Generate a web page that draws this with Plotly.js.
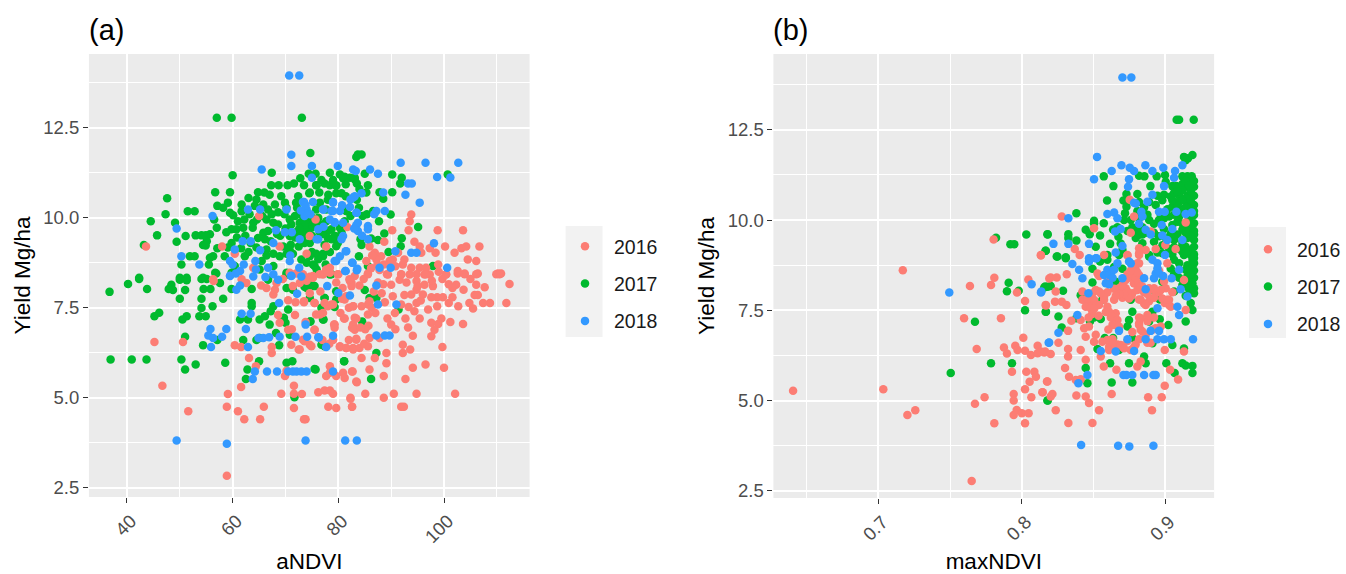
<!DOCTYPE html>
<html><head><meta charset="utf-8">
<script src="https://cdn.plot.ly/plotly-3.0.1.min.js"></script>
<style>html,body{margin:0;padding:0;background:#fff}</style></head><body>
<div id="chart" style="width:1346px;height:574px"></div>
<script>
const years = ['2016','2017','2018'];
const colors = ['#FC7D74','#00BA2E','#3399FF'];
const aNDVI_2016 = [[45.2,6.55],[50.6,6.55],[46.7,5.33],[51.6,4.62],[56.4,8.24],[59.1,5.1],[58.9,4.75],[61,4.62],[62.2,4.4],[65.2,4.4],[65.9,4.75],[58.9,2.83],[61.6,5.3],[63.1,6.1],[64.4,5.87],[60.4,6.46],[61.6,6.41],[67.4,6.41],[67.4,6.24],[69.2,5.11],[71.6,5.33],[71.6,5.11],[73.1,5.1],[71.6,4.71],[73.8,4.4],[73.5,4.4],[78.1,4.75],[79.6,4.71],[76.2,5.15],[77.4,5.2],[78.4,5.2],[79,5.11],[82.3,4.97],[82.6,4.75],[69.9,5.6],[70.2,5.75],[77.7,5.6],[78.4,5.87],[78.4,5.69],[79.6,5.6],[80.9,5.69],[81.2,5.55],[82.7,5.73],[83.4,5.45],[68.9,7.08],[70.5,6.89],[71.1,6.47],[72.5,6.34],[73.3,6.61],[74.6,6.47],[75.5,6.89],[75.8,7.31],[79.2,7.03],[81.1,7.2],[82.6,6.94],[83.1,7.22],[79,6.61],[80.3,6.43],[81.5,6.38],[82.8,6.38],[83.4,6.61],[67.7,7.87],[68,8],[70.5,7.71],[71.9,7.65],[73.5,7.65],[75.5,7.63],[77.4,7.63],[79,7.59],[77.1,7.35],[81.5,7.82],[82.5,8.19],[82.8,7.54],[65.4,8.12],[62.6,8.19],[68.3,8.19],[71.4,8.1],[72.7,8.19],[75.2,8.33],[77.1,8.42],[78.4,8.47],[112.4,8.16],[111.8,7.63],[110.2,8.45],[110.8,8.45],[108.7,7.63],[107.4,7.63],[106.1,8.14],[107.7,8.07],[105.5,7.48],[104.8,7.63],[105.8,7.85],[106.4,7.85],[106.4,8.45],[103.9,8.45],[102.6,8.45],[102.3,8.14],[101.6,8.05],[100.4,8.42],[99.7,8.3],[102.7,7.54],[101.6,7.79],[100.9,7.63],[99.8,7.79],[98.7,7.79],[97.6,7.79],[98.7,7.54],[99.5,7.2],[103.6,7.05],[101.2,7.1],[98.9,7.05],[97.6,7.08],[98.2,6.89],[97.6,6.71],[94.1,6.72],[99.7,6.41],[100,5.83],[96.5,5.92],[94.1,5.83],[102.1,5.11],[94.8,5.11],[90.5,5.11],[88.6,5],[85.1,5.11],[82.3,5],[82.6,4.75],[91.9,4.75],[92.4,4.75],[92.7,5.52],[88.6,5.6],[85.9,5.78],[83.5,5.43],[82.6,5.73],[89.1,5.96],[89.1,6.24],[86.9,6.1],[84.4,6.1],[92.2,6.47],[93.6,6.34],[92.2,6.24],[95.4,7.2],[94.4,7.4],[92.7,7.2],[93.3,7.52],[94.8,7.63],[91.9,7.59],[90,7.03],[89.3,7.2],[90.3,7.82],[93.8,7.87],[94.8,8],[96.3,8.14],[94.8,8.24],[96.3,8.42],[91.6,8.28],[90,8.14],[89.4,8.42],[91.9,8.42],[93.5,8.42],[96,7.87],[97.3,8.42],[85.6,7.59],[85.6,7.31],[85.7,7],[82.8,7.03],[83.1,6.89],[83.4,7.2],[81.2,7.2],[79.3,7.03],[79.3,6.94],[84.4,7.54],[82.8,7.54],[85.9,7.68],[81.2,7.73],[82.2,8.24],[82.5,8.1],[84,8.12],[85.6,8.45],[73.5,7.68],[75.5,7.63],[76.5,7.31],[78,7.54],[78.7,7.59],[75.5,6.89],[79,6.61],[80.3,6.41],[81.5,6.38],[82.8,6.34],[84,6.38],[85.6,6.43],[83.4,6.64],[85.9,6.66],[87.8,6.66],[74.9,6.43],[73.6,6.57],[72.7,6.34],[93.8,10.09],[93.5,9.9],[90.2,9.65],[93.3,9.65],[98.8,9.65],[103.6,9.65],[94.4,9.33],[88.7,9.33],[95.4,9.2],[100.2,9.2],[97.3,9.15],[98.4,9.03],[95.7,9.03],[102,9.03],[103.3,9.15],[104.2,9.2],[106.7,9.2],[104.5,8.84],[106.1,8.8],[81.7,9.74],[77.7,9.2],[85.9,9.2],[86.9,9.03],[88.1,8.93],[90.3,8.84],[92.5,8.84],[85.3,8.8],[87.2,8.84],[89.7,8.8],[91.3,9.03],[93.8,8.61],[95.4,8.61],[96.6,8.61],[98.9,8.7],[106.1,8.43],[100.4,8.43],[102.6,8.52],[103.9,8.43],[109.9,8.43],[110.5,8.43],[96.6,8.43],[91.9,8.43],[89.2,8.43],[85.6,8.43],[80,8.43],[78.4,8.61],[76.5,8.43],[74.6,8.36],[83.1,8.38],[94.8,8.43],[43.6,9.2],[58,9.2],[60.4,9],[68.9,9.2],[74,9],[74.6,9.49],[75.7,9.95],[65,10.05],[63.9,8.61],[70.8,8.47],[73.3,8.43],[75.2,8.38],[77.7,8.56],[79.9,8.43],[82.1,8.29],[56.3,8.29],[61.7,8.29],[86.2,8.6],[87.8,8.55],[92.9,8.2],[97.9,8.1],[88.2,7.9],[86.7,7.95],[86.4,8.95],[87.4,8.7],[88.6,8.7],[90.8,8.65],[92.2,8.7],[86.3,7.5],[87,7.35],[85.1,6.9],[84.2,6.95],[80.4,7.35],[82,7.5],[76.6,7.95],[74.6,7.9],[71.8,7.3],[68.6,7.3],[66.4,8.05],[69.5,8.3],[72,8.45],[74,8.25],[79.6,8.2],[80.8,8.05],[84.8,8.3],[87.5,8.2],[88.5,8.15],[92.5,7.85],[95,8.1],[97.7,8.25],[99,8.5],[100.9,8.15],[103.7,8],[105,8.3],[97,7.45],[95.6,7.7],[90.7,7.35],[88.8,7.65],[77,6.6],[78.3,6.5],[82,6.6],[84.9,6.5],[80.7,7.75],[71.2,6.9],[73.8,7.1],[90.8,6.9],[93.2,6.95]];
const aNDVI_2017 = [[36.7,7.94],[40.2,8.16],[42.3,8.3],[43.8,8.02],[45.2,7.26],[46.1,7.36],[48.4,8.14],[47.9,8.02],[48.7,7.99],[50,8.28],[51.3,8.26],[51,7.99],[50,7.75],[54.1,8.3],[55.1,8.3],[54.5,8.02],[55.8,8.02],[54.1,7.75],[54.1,7.49],[53.7,7.26],[54.9,7.26],[56.2,7.54],[58.2,7.75],[51.3,7.26],[50.5,7.17],[51,6.69],[36.9,6.06],[40.9,6.06],[43.7,6.06],[50.3,6.06],[51,5.78],[53,5.92],[58.6,5.97],[65,6.01],[62.8,5.78],[62.5,5.52],[54.4,6.46],[57.1,6.6],[62,6.6],[64.5,6.6],[68.8,6.46],[70.2,5.97],[71.3,6.01],[71.7,5.01],[75.7,5.78],[81.1,6.01],[77.2,7.17],[74.7,7.12],[67,7.03],[65.1,7.17],[66.1,7.26],[67.2,7.4],[67.7,7.54],[63.6,7.63],[63.6,7.54],[61.4,7.17],[62.9,7.17],[69.7,7.22],[70,7.08],[70.5,7.45],[68.2,6.8],[70.8,6.75],[77.4,6.43],[76.8,6.47],[65.1,6.66],[56.9,8.45],[57.6,8.19],[59.8,8.02],[63.6,8.02],[66.7,8.28],[70.2,8.05],[71.4,8],[74,8.05],[75.5,8.1],[77.4,7.77],[79.6,7.96],[79.6,7.73],[70.2,8.42],[78.4,8.42],[87.2,6.24],[81.1,6.01],[86.2,5.52],[75.5,5.8],[84.5,7.12],[77.1,7.17],[74.7,7.12],[77.1,6.47],[91.4,7.45],[74.6,8.12],[73.6,8.08],[75.2,8.12],[85,7.99],[85.9,7.77],[87.2,7.77],[79.3,7.52],[77.4,7.77],[74.6,7.77],[76.8,7.5],[57,12.78],[59.8,12.78],[73.1,12.78],[74.7,11.8],[60,11.18],[67.4,11.25],[74.4,11.22],[75.7,11.22],[78.4,11.25],[80.3,11.2],[83.4,11.69],[83.7,11.76],[84.4,11.76],[56.7,10.71],[59.5,10.71],[47.6,10.54],[47.3,10.1],[44.5,9.9],[45.7,9.51],[49.1,9.86],[49.4,9.33],[51.5,10.18],[52.8,10.18],[51.1,9.49],[43.2,9.24],[67.3,10.9],[68.7,10.9],[70.4,10.9],[71.6,10.95],[73.5,10.9],[75.8,10.9],[77.4,10.95],[79.6,10.9],[81.4,10.93],[83.1,11.07],[64.8,10.71],[67,10.64],[72.4,10.6],[74.5,10.68],[78.1,10.64],[80.6,10.68],[57.1,10.33],[59.1,10.42],[61.7,10.37],[58.2,10.28],[59.5,10.14],[60.1,10.07],[61.7,10.18],[64.5,10.51],[64.2,10.33],[65.8,10.37],[68,10.37],[66.7,10.23],[69.9,10.42],[70.2,10.28],[72,10.42],[72.2,10.28],[66.4,9.95],[63.9,9.86],[67.7,9.86],[68.6,9.81],[63.8,9.72],[60.7,9.68],[62,9.72],[59.8,9.68],[58.8,9.6],[57,9.72],[56.5,9.95],[55.7,9.54],[53,9.51],[54.1,9.51],[54.9,9.51],[55.1,9.35],[54.4,9.24],[54.9,9.23],[59.8,9.3],[59.1,9.17],[57.1,9.15],[56.3,8.93],[55.7,8.89],[58.5,8.93],[51.9,8.93],[52.8,8.93],[50.3,8.7],[55.5,8.7],[56.7,8.47],[65.8,9.58],[66.7,9.63],[64.8,9.44],[66.1,9.4],[64.5,9.17],[66.4,9.12],[66.4,8.95],[67.7,9],[68.9,8.93],[70.2,9],[71.4,9],[73.6,9.3],[71.1,9.81],[72.7,9.86],[73.9,9.86],[74.9,9.72],[73.6,9.63],[74.6,9.9],[70.8,9.49],[74.6,9.3],[75.8,9],[77.1,9],[73,8.84],[75.5,8.66],[77.7,9.9],[78.7,9.68],[79.3,9.49],[79.9,9.3],[78.7,9.4],[80.9,10.23],[77.7,10.23],[75.8,10.23],[81.5,10.19],[62.3,8.93],[60.4,8.66],[59.8,8.47],[65.1,8.56],[67.7,8.66],[70.2,8.47],[54.4,8.33],[51.3,8.33],[50,8.33],[42.3,8.33],[90.2,11.2],[92,11.11],[91.7,10.95],[100.7,11.2],[81.2,11.14],[82.2,11.11],[83.1,11.11],[85,11.22],[83.5,10.95],[85.6,10.9],[75.9,10.9],[78.4,10.9],[79.6,10.88],[74.6,10.7],[79.6,10.68],[87.8,10.71],[88.5,10.53],[90.2,10.71],[76.5,10.42],[81.5,10.19],[83.9,10.28],[86.6,10.19],[89.9,10.09],[87.7,9.9],[95.1,9.74],[88.7,9.56],[92,9.43],[91.8,9.21],[89.5,9.05],[87.5,9.38],[86.2,9.42],[84.2,9.4],[84.4,9.24],[83.9,8.93],[85.6,8.66],[97.9,8.66],[78.7,8.43],[80.3,9.72],[79.3,9.49],[79.6,9.21],[78,9.63],[78,9.44],[76.8,9.81],[75.2,9.95],[73.6,9.77],[73.3,9.49],[74.6,8.93],[77.1,8.93],[75.2,8.7],[75.9,8.56],[72,9.6],[70,9.7],[69,9.5],[75,9.5],[76.5,9.6],[72.5,9.2],[71,9.25],[72.8,10.1],[73.8,10.15],[74.8,10.05],[71.8,10.05],[70.8,9.95],[69.8,10.1],[68.6,10.15],[67.4,10.1],[65.6,10.05],[64.6,9.95],[63.2,10.1],[62.2,9.95],[61,9.9],[60.8,9.45],[62.4,9.5],[63.4,9.3],[61.6,9.15],[63,9.05],[65.5,8.8],[67.2,9.35],[68.4,9.55],[69.6,9.2],[71.8,9.45],[72.6,9.7],[73.4,9.95],[75.9,9.8],[76.2,10],[77,9.55],[77.4,9.25],[78.4,9.05],[74.2,9.6],[73.1,9.5],[70.8,9.1],[75,9.05],[74,8.75],[76.2,8.85],[77.6,8.7],[80.6,9.6],[81.2,9.9],[82.3,10.05],[84.6,10.05],[85.4,10.1],[83.5,10.5],[85.3,10.7],[81.4,10.6],[76.8,11.05],[79,11.05],[80.9,11.1],[84,10.8],[78,10.5],[76.4,10.7],[72.8,11.1],[69.2,10.6],[66,10.7],[63,10.55]];
const aNDVI_2018 = [[70.7,13.95],[72.6,13.95],[71.1,11.75],[71.1,11.44],[65.5,11.34],[75,11.44],[79.9,11.44],[82.8,11.34],[83.3,11.3],[75,11.11],[56.2,10.05],[49.4,9.7],[62.9,10.23],[65.2,10.23],[50.3,8.93],[53.7,8.7],[73.5,10.44],[75.2,10.44],[74,10.23],[73.6,10.05],[70.2,10.23],[77.2,10.23],[79,10.44],[78.7,10.19],[80.3,10.19],[82.8,10.56],[83.4,10.14],[79.3,9.86],[76.2,9.68],[80.9,9.49],[83.4,9.79],[69.9,9.6],[71.2,9.6],[72.7,9.4],[76.2,9.4],[67.7,9.3],[63.4,9.35],[61.9,9.35],[60.4,9.12],[59.5,8.8],[60,8.7],[61.4,8.52],[59.5,8.38],[64.3,8.8],[64.4,8.56],[66.7,8.61],[67.7,8.43],[70.8,8.8],[72.6,8.61],[71.1,8.38],[81.5,9.07],[79.6,8.8],[82.7,8.75],[81.3,8.52],[83.6,8.58],[91.8,11.53],[96.5,11.53],[102.7,11.53],[98.7,11.13],[101.2,11.12],[86,11.34],[87.5,11.22],[93.2,10.95],[93.9,10.95],[92.7,10.64],[95.4,10.42],[88.5,10.7],[84.4,10.68],[83.1,10.6],[82.3,10.51],[79,10.42],[73.3,10.44],[77.1,10.23],[79,10.19],[83.5,10.14],[87.2,10.19],[88.8,10.19],[79.3,9.88],[80.9,9.86],[83.7,9.86],[85.6,9.77],[85.6,9.68],[83.7,9.63],[75.9,9.4],[80.6,9.4],[85.6,9.4],[98.1,9.29],[90.8,9.07],[93.8,9.03],[94.8,9.03],[81.4,9.07],[80.3,8.93],[79.3,8.8],[82.6,8.75],[87.8,8.61],[89.9,8.61],[100.6,8.61],[81.4,8.52],[83.5,8.54],[49.4,3.81],[58.9,3.72],[73.8,3.81],[81.3,3.81],[83.5,3.81],[55.8,6.91],[55.4,6.73],[55.9,6.41],[58,6.69],[58.8,6.91],[56.3,6.66],[61.7,7.33],[63.4,7.33],[62.5,6.91],[62.9,6.41],[64.9,6.66],[65.8,6.66],[66.9,6.68],[68.9,6.69],[71.9,6.69],[74.1,6.69],[76.3,6.67],[79,6.72],[73.8,7.03],[68.8,7.63],[72.2,7.89],[77.9,8.1],[64.2,5.73],[66.5,5.73],[68.4,5.73],[70.5,5.73],[71.4,5.73],[72.1,5.73],[73,5.73],[74,5.73],[79,5.73],[63.8,5.52],[59.5,8.39],[61.4,8.12],[60.7,8],[63.9,8.37],[68.6,8.28],[73,8.37],[71.1,8.39],[87.2,8.12],[87.5,7.59],[91,7.59],[87.2,6.73],[88.8,6.73],[89.7,6.73],[76.2,6.68],[77.7,6.41],[80,7.91],[82.2,7.84],[73.8,10.35],[72.9,10.2],[74.7,10.1],[84.5,9.5],[83,9.7],[82.2,10.3],[80.7,10.35],[86.8,10.1],[70.9,8.95],[68.2,9.65],[77.2,9.75],[78.4,9.95],[65.2,9.1],[62.1,8.7],[66.2,8.35],[60.6,8.45]];

const maxNDVI_2016 = [[0.6405,5.27],[0.7034,5.31],[0.717,8.61],[0.7202,4.6],[0.7257,4.73],[0.765,2.77],[0.7673,4.91],[0.774,5.09],[0.7808,4.37],[0.7638,8.17],[0.7597,7.28],[0.7685,6.43],[0.7854,7.28],[0.7785,8.2],[0.7808,8.4],[0.7803,9.46],[0.7875,6.47],[0.7896,6.3],[0.7954,6.52],[0.797,6.4],[0.7931,5.8],[0.7943,5.18],[0.7943,5],[0.7943,4.6],[0.7964,4.74],[0.8,4.65],[0.8047,4.65],[0.8022,5.31],[0.8022,4.37],[0.8066,5.09],[0.8145,5.23],[0.8054,5.52],[0.8031,5.8],[0.8087,5.8],[0.8098,5.66],[0.8175,5.53],[0.801,6.74],[0.8022,7.76],[0.7966,7.99],[0.8045,8.35],[0.8133,9.02],[0.8022,6.38],[0.8063,6.26],[0.811,6.52],[0.811,6.31],[0.8156,6.33],[0.8168,7.63],[0.8191,8.38],[0.8201,8.41],[0.8243,8.41],[0.8313,8.5],[0.8236,8.02],[0.8166,7.65],[0.8231,7.74],[0.8278,7.74],[0.831,7.65],[0.8345,7.21],[0.8322,6.93],[0.8255,6.6],[0.8132,6.36],[0.8162,6.36],[0.8201,6.29],[0.8322,6.43],[0.8322,6.22],[0.841,6.4],[0.8445,6.13],[0.8301,5.9],[0.8329,5.66],[0.8376,5.57],[0.841,5.59],[0.8178,5.53],[0.8143,5.23],[0.8213,5.18],[0.8201,5.11],[0.838,5.14],[0.8445,5.11],[0.8468,4.93],[0.8236,4.73],[0.8538,4.73],[0.8324,4.38],[0.8492,4.38],[0.8626,5.18],[0.888,5.09],[0.8975,5.09],[0.8907,4.73],[0.8996,5.41],[0.9089,5.58],[0.9033,5.85],[0.8571,5.94],[0.8659,5.85],[0.8805,5.94],[0.8828,6.08],[0.8782,6.48],[0.8996,6.4],[0.913,6.36],[0.855,6.22],[0.8515,6.82],[0.8603,6.97],[0.8445,6.77],[0.8503,6.63],[0.8561,6.63],[0.8608,6.49],[0.8701,6.49],[0.841,7.23],[0.8434,7],[0.8468,7.05],[0.8457,7.69],[0.8422,8.02],[0.8527,8.52],[0.8643,7.79],[0.8654,7.42],[0.8654,7.14],[0.8817,7.14],[0.8828,6.96],[0.8968,7.05],[0.9142,7.51],[0.8677,8.11],[0.8724,8.11],[0.8782,8.25],[0.8817,8.48],[0.8817,8.8],[0.8817,9.03],[0.8736,9.03],[0.877,7.97],[0.8852,7.69],[0.8887,8.11],[0.8921,8.06],[0.9003,8.11],[0.9026,7.79],[0.9026,7.65],[0.913,8.34],[0.9014,8.8],[0.8278,10.1],[0.8752,10.56],[0.8782,10.1],[0.9142,9.93],[0.8503,9.77],[0.8759,9.65],[0.8898,9.68],[0.8369,9.2],[0.8403,9.03],[0.8132,9.03],[0.8573,9.03],[0.8736,9.02],[0.8817,9.08],[0.8863,9.17],[0.8933,9.2],[0.9,9.31],[0.9072,9.2],[0.8817,9.22],[0.8468,7.69],[0.8503,7.79],[0.8538,8.02],[0.8573,7.88],[0.852,7.65],[0.8596,7.6],[0.8585,7.45],[0.862,7.3],[0.8632,7.1],[0.8701,8.2],[0.8745,8.4],[0.8782,8.7],[0.8764,7.9],[0.8817,7.8],[0.8851,8.0],[0.8736,8.5],[0.8701,7.85],[0.8887,7.75],[0.8921,7.85],[0.8956,8.0],[0.8996,7.7],[0.8991,8.3],[0.8956,8.6],[0.9049,8.0],[0.8596,8.3],[0.8538,8.45],[0.8643,8.1],[0.8596,8.0],[0.8817,7.3],[0.8875,7.2],[0.8921,7.3],[0.8933,7.0],[0.877,6.9],[0.8817,6.7],[0.8898,6.6],[0.8632,6.7],[0.8666,6.55],[0.8759,6.4],[0.8422,7.79],[0.8457,7.83],[0.8445,7.6],[0.848,7.56],[0.8492,7.97],[0.8515,8.06],[0.855,7.97],[0.8573,7.79],[0.8538,7.65],[0.8608,7.46],[0.8631,7.33],[0.8666,7.23],[0.8643,7.09],[0.8677,7.05],[0.8701,8.16],[0.8736,8.02],[0.8724,8.34],[0.877,8.48],[0.8794,8.62],[0.8805,8.8],[0.8782,8.25],[0.8805,8.06],[0.8747,7.83],[0.8828,7.79],[0.8863,7.65],[0.8817,7.09],[0.884,6.91],[0.8828,7.28],[0.8875,7.37],[0.891,6.96],[0.8863,6.82],[0.8979,7.83],[0.9014,7.79],[0.9038,7.6],[0.8921,8.11],[0.8968,8.06],[0.8817,8.25],[0.884,8.16],[0.8596,6.68],[0.8631,6.54],[0.8689,6.54],[0.8712,6.45],[0.8608,6.4],[0.8793,8.4],[0.8805,8.55],[0.8759,8.6],[0.8828,8.15],[0.8875,7.95],[0.8712,7.95],[0.8678,7.95],[0.8655,7.9],[0.849,7.4],[0.8535,7.35],[0.8505,7.55],[0.8465,7.3],[0.8875,6.6],[0.8736,6.65],[0.8793,6.55]];
const maxNDVI_2017 = [[0.782,9.51],[0.792,9.33],[0.7947,9.33],[0.8031,9.6],[0.818,9.6],[0.8166,9.15],[0.7908,8.26],[0.7896,8.03],[0.7978,8.04],[0.8156,8.13],[0.818,8.15],[0.8022,7.5],[0.8168,7.46],[0.7673,7.18],[0.7785,6.03],[0.7931,6.03],[0.7504,5.76],[0.818,5],[0.8162,8.16],[0.8201,8.17],[0.8287,8.04],[0.8166,7.46],[0.8255,7.33],[0.8278,7.02],[0.838,7.28],[0.8475,7.19],[0.8503,7.3],[0.855,7.26],[0.8178,5],[0.8445,5.9],[0.8457,5.48],[0.8626,5.5],[0.8615,6.03],[0.8747,6.03],[0.877,5.5],[0.8852,6.22],[0.8863,6.03],[0.9007,6.03],[0.9065,5.76],[0.9119,6.03],[0.9142,5.97],[0.9189,5.96],[0.9189,5.76],[0.913,6.44],[0.8527,6.43],[0.8578,6.73],[0.8636,6.73],[0.8677,6.4],[0.877,6.73],[0.891,6.59],[0.9049,6.54],[0.8736,7.05],[0.8747,7.23],[0.8887,7.19],[0.8961,7.25],[0.9021,7.09],[0.9142,7.19],[0.877,7.46],[0.891,7.46],[0.8759,7.79],[0.8961,7.8],[0.9061,8.02],[0.9189,7.51],[0.92,8.11],[0.92,7.97],[0.9189,8.25],[0.9142,8.62],[0.841,7.92],[0.8492,8.27],[0.8654,8.29],[0.8979,8.29],[0.8933,7.97],[0.8561,7.79],[0.8248,8.99],[0.8306,8.94],[0.913,9.03],[0.9177,9.03],[0.9189,8.89],[0.9119,9.12],[0.9038,8.66],[0.8887,9.03],[0.8979,9.08],[0.8677,9.03],[0.8596,9.03],[0.9079,12.78],[0.9096,12.78],[0.9198,12.78],[0.9189,11.8],[0.9158,11.71],[0.913,11.75],[0.9142,11.66],[0.8571,11.21],[0.8817,11.23],[0.8854,11.21],[0.894,11.21],[0.8998,11.25],[0.9119,11.21],[0.9154,11.21],[0.9184,11.21],[0.8638,10.94],[0.8896,10.94],[0.9003,11.06],[0.9049,10.94],[0.9077,10.94],[0.9142,10.92],[0.92,10.92],[0.8805,10.72],[0.8729,10.72],[0.8945,10.67],[0.8991,10.7],[0.9038,10.65],[0.9096,10.67],[0.9154,10.67],[0.92,10.67],[0.8594,10.54],[0.8708,10.54],[0.8729,10.37],[0.8933,10.42],[0.92,10.42],[0.9154,10.46],[0.9049,10.37],[0.838,10.19],[0.8503,9.98],[0.8503,9.91],[0.8571,9.91],[0.8719,10.19],[0.8712,10],[0.8817,10.05],[0.8817,9.82],[0.8887,10],[0.9049,9.86],[0.92,10.14],[0.92,9.91],[0.9189,9.68],[0.9154,9.82],[0.92,9.45],[0.9177,9.17],[0.92,9.26],[0.8178,9.61],[0.8324,9.61],[0.8324,9.5],[0.838,9.43],[0.8445,9.73],[0.8473,9.61],[0.8545,9.57],[0.8636,9.74],[0.8673,9.54],[0.8515,9.26],[0.8615,9.34],[0.8701,9.17],[0.8166,9.15],[0.8243,8.99],[0.8306,8.97],[0.8817,9.59],[0.884,9.36],[0.8921,9.4],[0.9038,9.63],[0.9061,9.45],[0.9119,9.73],[0.9142,9.26],[0.8887,8.99],[0.9119,10.3],[0.9154,10.2],[0.9096,10.1],[0.9061,10.15],[0.9014,10.3],[0.8968,10.15],[0.8921,9.9],[0.8875,10.15],[0.884,9.8],[0.899,9.75],[0.9154,9.5],[0.9119,9.4],[0.9096,9.2],[0.9061,8.9],[0.9154,8.75],[0.92,8.6],[0.92,8.4],[0.9154,8.45],[0.9119,8.2],[0.9096,10.5],[0.9165,10],[0.9177,10.55],[0.9177,10.8],[0.9119,11],[0.9061,10.75],[0.9177,11.05],[0.92,9.7],[0.92,9.05],[0.9165,8.3],[0.9142,7.9],[0.9177,7.7],[0.9142,11.08],[0.92,11.08],[0.9165,10.95],[0.9119,10.82],[0.9084,10.8],[0.9142,10.6],[0.9119,10.55],[0.9177,10.3],[0.9142,10.35],[0.92,10.25],[0.9084,10.4],[0.9049,10.55],[0.8979,10.55],[0.9026,10.1],[0.8991,10.05],[0.8956,10],[0.9084,9.95],[0.9177,9.85],[0.9119,9.9],[0.9154,9.95],[0.92,9.6],[0.9177,9.55],[0.9142,9.65],[0.9084,9.6],[0.9038,9.55],[0.9003,9.5],[0.8956,9.55],[0.8921,9.65],[0.8875,9.65],[0.884,9.6],[0.8805,9.7],[0.877,9.8],[0.8759,10],[0.8736,9.7],[0.8805,10.25],[0.8852,10.35],[0.8887,10.5],[0.8817,10.5],[0.8828,9.2],[0.8794,9.5],[0.8666,9.8],[0.8689,9.35],[0.898,9.3],[0.9026,9.2],[0.9061,9.25],[0.9119,9.3],[0.9154,9.15],[0.92,8.95],[0.92,8.8],[0.9177,8.65],[0.9142,9.1],[0.9096,8.8],[0.9049,9.05],[0.8945,9.1],[0.9165,8.1],[0.9177,8.5],[0.9142,8.3],[0.9096,8.4],[0.9061,8.5],[0.8596,8.9],[0.8545,8.85],[0.8492,8.65],[0.8643,8.7],[0.8701,8.65]];
const maxNDVI_2018 = [[0.7494,7.99],[0.8068,8.22],[0.8133,7.99],[0.8187,6.6],[0.8701,13.95],[0.8763,13.95],[0.8524,11.75],[0.8503,11.13],[0.8626,11.36],[0.8694,11.52],[0.8752,11.45],[0.8782,11.36],[0.8861,11.52],[0.891,11.36],[0.8986,11.45],[0.9068,11.36],[0.9119,11.52],[0.9061,11.17],[0.8747,11.13],[0.874,10.92],[0.8991,10.94],[0.891,10.7],[0.8875,10.51],[0.8794,10.46],[0.8596,10.17],[0.8643,10.21],[0.8666,10.05],[0.8833,10.23],[0.8956,10.23],[0.8996,10.23],[0.9077,10.23],[0.9142,10.17],[0.9184,10.21],[0.8324,10.05],[0.822,9.34],[0.8324,9.34],[0.8468,9.34],[0.865,9.68],[0.8654,9.1],[0.8701,9.28],[0.8979,9.57],[0.8975,9.86],[0.8863,9.73],[0.9119,9.45],[0.8998,9.03],[0.8468,8.94],[0.8515,8.94],[0.8136,8.02],[0.8352,8.78],[0.8399,8.62],[0.8422,8.39],[0.8468,8.85],[0.852,8.94],[0.8596,8.62],[0.8619,8.52],[0.8666,8.8],[0.8701,8.39],[0.8585,8.25],[0.8608,8.22],[0.8759,8.8],[0.8852,8.39],[0.8945,8.8],[0.8933,8.52],[0.8921,8.39],[0.9044,8.39],[0.8863,8.08],[0.9107,8.08],[0.9096,8.62],[0.9154,7.88],[0.9096,7.37],[0.9084,7.6],[0.8945,7.56],[0.8464,7.97],[0.8387,7.37],[0.8255,6.88],[0.819,6.61],[0.8677,6.93],[0.8898,6.93],[0.8956,6.93],[0.8736,6.7],[0.8945,6.7],[0.8991,6.7],[0.9038,6.7],[0.9193,6.7],[0.8863,6.7],[0.855,6.37],[0.8654,6.36],[0.8782,6.37],[0.8457,5.71],[0.8394,5.48],[0.8708,5.71],[0.8729,5.71],[0.877,5.71],[0.8852,5.71],[0.8917,5.71],[0.8933,5.71],[0.8413,3.77],[0.8671,3.75],[0.8749,3.73],[0.8917,3.75],[0.8573,8.48],[0.8608,8.48],[0.8643,8.62],[0.8945,8.66],[0.8956,8.52],[0.8747,8.85],[0.8985,8.45],[0.891,8.9],[0.8632,8.4],[0.8782,10.48],[0.884,10.1],[0.8898,9.6],[0.9049,9.75],[0.9014,9.45],[0.8817,9.9],[0.8689,9.75]];

const W=1346,H=574;
const panelA={x0:89,x1:530,y0:54,y1:497};
const panelB={x0:774,x1:1215,y0:54,y1:498};
function mk(pairs,i,xa,ya,leg,rank){
  return {type:'scatter',mode:'markers',x:pairs.map(p=>p[0]),y:pairs.map(p=>p[1]),name:years[i],
    marker:{color:colors[i],size:8.5},xaxis:xa,yaxis:ya,legend:leg,legendrank:rank,legendgroup:leg+years[i],hoverinfo:'x+y+name'};
}
const data=[
  mk(aNDVI_2017,1,'x','y','legend',2),mk(aNDVI_2016,0,'x','y','legend',1),mk(aNDVI_2018,2,'x','y','legend',3),
  mk(maxNDVI_2017,1,'x2','y2','legend2',2),mk(maxNDVI_2016,0,'x2','y2','legend2',1),mk(maxNDVI_2018,2,'x2','y2','legend2',3)
];
const tickFont={family:'Liberation Sans, Arial, sans-serif',size:18.5,color:'#4D4D4D'};
const titleFont={family:'Liberation Sans, Arial, sans-serif',size:22.5,color:'#000'};
function xax(p,range,dtick,tick0,minor,fmt,title,anchor){return {
  domain:[p.x0/W,p.x1/W],range,anchor,tickmode:'linear',dtick,tick0,tickformat:fmt,tickangle:-45,
  ticks:'outside',ticklen:5,tickwidth:1.2,tickcolor:'#333',tickfont:tickFont,showline:false,zeroline:false,ticklabelshift:4,
  gridcolor:'#fff',gridwidth:1.6,minor:{dtick:minor,tick0:tick0,showgrid:true,gridcolor:'#fff',gridwidth:1.2,ticks:''},
  title:{text:title,font:titleFont,standoff:14},automargin:false};}
function yax(p,range,anchor){return {
  domain:[1-p.y1/H,1-p.y0/H],range,anchor,tickmode:'linear',dtick:2.5,tick0:2.5,tickformat:'.1f',
  ticks:'outside',ticklen:5,tickwidth:1.2,tickcolor:'#333',tickfont:tickFont,showline:false,zeroline:false,
  gridcolor:'#fff',gridwidth:1.6,minor:{dtick:1.25,tick0:1.25,showgrid:true,gridcolor:'#fff',gridwidth:1.2,ticks:''},
  title:{text:'Yield Mg/ha',font:titleFont,standoff:6},automargin:false};}
function leg(x,top){return {x:x/W,y:1-top/H,xanchor:'left',yanchor:'top',bgcolor:'rgba(0,0,0,0)',borderwidth:0,
  font:{family:'Liberation Sans, Arial, sans-serif',size:19.5,color:'#1a1a1a'},tracegroupgap:9,itemwidth:48,itemclick:false,itemdoubleclick:false};}
function keyRect(x0,x1,y0,y1){return {type:'rect',xref:'paper',yref:'paper',x0:x0/W,x1:x1/W,y0:1-y1/H,y1:1-y0/H,fillcolor:'#F2F2F2',line:{width:0},layer:'below'};}
function tag(t,x,y){return {text:t,xref:'paper',yref:'paper',x:x/W,y:1-y/H,xanchor:'left',yanchor:'middle',showarrow:false,font:{family:'Liberation Sans, Arial, sans-serif',size:29,color:'#000'}};}
const layout={width:W,height:H,margin:{l:0,r:0,t:0,b:0},autosize:false,paper_bgcolor:'#fff',plot_bgcolor:'#EBEBEB',showlegend:true,hovermode:'closest',
  xaxis:xax(panelA,[32.8,116.2],20,40,10,'d','aNDVI','y'),
  yaxis:yax(panelA,[2.24,14.55],'x'),
  xaxis2:xax(panelB,[0.6268,0.934],0.1,0.7,0.05,'.1f','maxNDVI','y2'),
  yaxis2:yax(panelB,[2.3,14.6],'x2'),
  legend:leg(556,227),legend2:leg(1240,230),
  shapes:[keyRect(566,603,226,337),keyRect(1250,1287,227,338)],
  annotations:[tag('(a)',87,30),tag('(b)',772,30)]
};
Plotly.newPlot('chart',data,layout,{displayModeBar:false});
</script></body></html>
